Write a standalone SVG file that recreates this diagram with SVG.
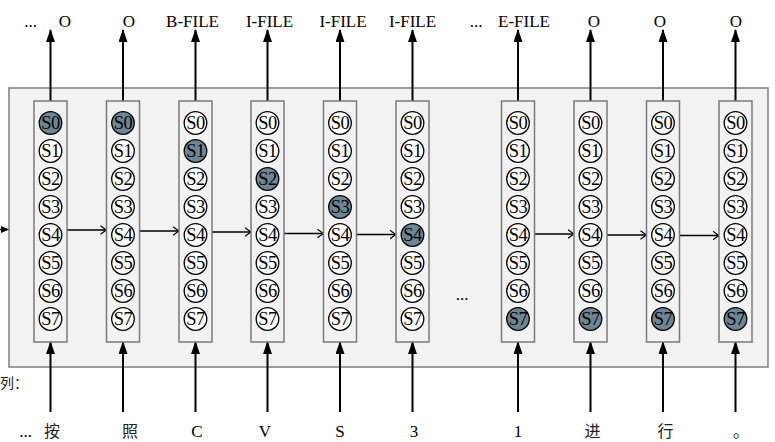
<svg xmlns="http://www.w3.org/2000/svg" width="775" height="442" viewBox="0 0 775 442">
<style>
.lab{font-family:"Liberation Serif","Noto Sans CJK SC",serif;font-size:17px;fill:#000;text-anchor:middle}
.cjk{font-family:"Liberation Serif","Noto Sans CJK SC",serif;font-size:16px;fill:#222;text-anchor:middle}
.col{fill:#f2f2f2;stroke:#7a7a7a;stroke-width:1.5}
.st{fill:#fff;stroke:#000;stroke-width:1.3}
.on{fill:#6e8593;stroke:#000;stroke-width:1.3}
.sl{font-family:"Liberation Serif",serif;font-size:18.5px;fill:#000;text-anchor:middle;letter-spacing:-0.5px}
.va{stroke:#000;stroke-width:2;fill:none;marker-end:url(#fa)}
.ha{stroke:#000;stroke-width:1.3;fill:none;marker-end:url(#oa)}
</style>
<defs>
<marker id="fa" viewBox="0 0 13 9" refX="12" refY="4.5" markerWidth="13" markerHeight="9" markerUnits="userSpaceOnUse" orient="auto"><path d="M0,0 L13,4.5 L0,9 Z" fill="#000"/></marker>
<marker id="oa" viewBox="0 0 7 10" refX="6.5" refY="5" markerWidth="7" markerHeight="10" markerUnits="userSpaceOnUse" orient="auto"><path d="M0.5,0.8 L6.3,5 L0.5,9.2" fill="none" stroke="#000" stroke-width="1.2"/></marker>
</defs>
<rect id="frame" x="9" y="88" width="759" height="279" fill="#f2f2f2" stroke="#7f7f7f" stroke-width="1.5"/>

<g id="connectors">
<line class="va" x1="50.5" y1="101" x2="50.5" y2="30"/>
<line class="va" x1="123" y1="101" x2="123" y2="30"/>
<line class="va" x1="195.5" y1="101" x2="195.5" y2="30"/>
<line class="va" x1="267.5" y1="101" x2="267.5" y2="30"/>
<line class="va" x1="340" y1="101" x2="340" y2="30"/>
<line class="va" x1="412.5" y1="101" x2="412.5" y2="30"/>
<line class="va" x1="518" y1="101" x2="518" y2="30"/>
<line class="va" x1="590.5" y1="101" x2="590.5" y2="30"/>
<line class="va" x1="663" y1="101" x2="663" y2="30"/>
<line class="va" x1="735.5" y1="101" x2="735.5" y2="30"/>

<line class="va" x1="50.5" y1="412" x2="50.5" y2="342"/>
<line class="va" x1="123" y1="412" x2="123" y2="342"/>
<line class="va" x1="195.5" y1="412" x2="195.5" y2="342"/>
<line class="va" x1="267.5" y1="412" x2="267.5" y2="342"/>
<line class="va" x1="340" y1="412" x2="340" y2="342"/>
<line class="va" x1="412.5" y1="412" x2="412.5" y2="342"/>
<line class="va" x1="518" y1="412" x2="518" y2="342"/>
<line class="va" x1="590.5" y1="412" x2="590.5" y2="342"/>
<line class="va" x1="663" y1="412" x2="663" y2="342"/>
<line class="va" x1="735.5" y1="412" x2="735.5" y2="342"/>

<line x1="-2" y1="229.5" x2="8" y2="229.5" stroke="#000" stroke-width="1.3"/>
<path d="M1,226 L9,229.5 L1,233 Z" fill="#000"/>

<line class="ha" x1="67" y1="230" x2="106.5" y2="230"/>
<line class="ha" x1="139.5" y1="231" x2="179" y2="231"/>
<line class="ha" x1="212" y1="232" x2="251" y2="232"/>
<line class="ha" x1="284" y1="233.5" x2="323.5" y2="233.5"/>
<line class="ha" x1="356.5" y1="234.5" x2="396" y2="234.5"/>
<line class="ha" x1="534.5" y1="234" x2="574" y2="234"/>
<line class="ha" x1="607" y1="235" x2="646.5" y2="235"/>
<line class="ha" x1="679.5" y1="235.5" x2="719" y2="235.5"/>
</g>

<g id="col1"><rect class="col" x="34" y="101" width="33" height="241"/>
<circle class="on" cx="50.5" cy="123" r="11.3"/><circle class="st" cx="50.5" cy="151" r="11.3"/><circle class="st" cx="50.5" cy="179" r="11.3"/><circle class="st" cx="50.5" cy="207" r="11.3"/><circle class="st" cx="50.5" cy="235" r="11.3"/><circle class="st" cx="50.5" cy="263" r="11.3"/><circle class="st" cx="50.5" cy="291" r="11.3"/><circle class="st" cx="50.5" cy="319" r="11.3"/>
<text class="sl" x="50.5" y="129">S0</text><text class="sl" x="50.5" y="157">S1</text><text class="sl" x="50.5" y="185">S2</text><text class="sl" x="50.5" y="213">S3</text><text class="sl" x="50.5" y="241">S4</text><text class="sl" x="50.5" y="269">S5</text><text class="sl" x="50.5" y="297">S6</text><text class="sl" x="50.5" y="325">S7</text></g>

<g id="col2"><rect class="col" x="106.5" y="101" width="33" height="241"/>
<circle class="on" cx="123" cy="123" r="11.3"/><circle class="st" cx="123" cy="151" r="11.3"/><circle class="st" cx="123" cy="179" r="11.3"/><circle class="st" cx="123" cy="207" r="11.3"/><circle class="st" cx="123" cy="235" r="11.3"/><circle class="st" cx="123" cy="263" r="11.3"/><circle class="st" cx="123" cy="291" r="11.3"/><circle class="st" cx="123" cy="319" r="11.3"/>
<text class="sl" x="123" y="129">S0</text><text class="sl" x="123" y="157">S1</text><text class="sl" x="123" y="185">S2</text><text class="sl" x="123" y="213">S3</text><text class="sl" x="123" y="241">S4</text><text class="sl" x="123" y="269">S5</text><text class="sl" x="123" y="297">S6</text><text class="sl" x="123" y="325">S7</text></g>

<g id="col3"><rect class="col" x="179" y="101" width="33" height="241"/>
<circle class="st" cx="195.5" cy="123" r="11.3"/><circle class="on" cx="195.5" cy="151" r="11.3"/><circle class="st" cx="195.5" cy="179" r="11.3"/><circle class="st" cx="195.5" cy="207" r="11.3"/><circle class="st" cx="195.5" cy="235" r="11.3"/><circle class="st" cx="195.5" cy="263" r="11.3"/><circle class="st" cx="195.5" cy="291" r="11.3"/><circle class="st" cx="195.5" cy="319" r="11.3"/>
<text class="sl" x="195.5" y="129">S0</text><text class="sl" x="195.5" y="157">S1</text><text class="sl" x="195.5" y="185">S2</text><text class="sl" x="195.5" y="213">S3</text><text class="sl" x="195.5" y="241">S4</text><text class="sl" x="195.5" y="269">S5</text><text class="sl" x="195.5" y="297">S6</text><text class="sl" x="195.5" y="325">S7</text></g>

<g id="col4"><rect class="col" x="251" y="101" width="33" height="241"/>
<circle class="st" cx="267.5" cy="123" r="11.3"/><circle class="st" cx="267.5" cy="151" r="11.3"/><circle class="on" cx="267.5" cy="179" r="11.3"/><circle class="st" cx="267.5" cy="207" r="11.3"/><circle class="st" cx="267.5" cy="235" r="11.3"/><circle class="st" cx="267.5" cy="263" r="11.3"/><circle class="st" cx="267.5" cy="291" r="11.3"/><circle class="st" cx="267.5" cy="319" r="11.3"/>
<text class="sl" x="267.5" y="129">S0</text><text class="sl" x="267.5" y="157">S1</text><text class="sl" x="267.5" y="185">S2</text><text class="sl" x="267.5" y="213">S3</text><text class="sl" x="267.5" y="241">S4</text><text class="sl" x="267.5" y="269">S5</text><text class="sl" x="267.5" y="297">S6</text><text class="sl" x="267.5" y="325">S7</text></g>

<g id="col5"><rect class="col" x="323.5" y="101" width="33" height="241"/>
<circle class="st" cx="340" cy="123" r="11.3"/><circle class="st" cx="340" cy="151" r="11.3"/><circle class="st" cx="340" cy="179" r="11.3"/><circle class="on" cx="340" cy="207" r="11.3"/><circle class="st" cx="340" cy="235" r="11.3"/><circle class="st" cx="340" cy="263" r="11.3"/><circle class="st" cx="340" cy="291" r="11.3"/><circle class="st" cx="340" cy="319" r="11.3"/>
<text class="sl" x="340" y="129">S0</text><text class="sl" x="340" y="157">S1</text><text class="sl" x="340" y="185">S2</text><text class="sl" x="340" y="213">S3</text><text class="sl" x="340" y="241">S4</text><text class="sl" x="340" y="269">S5</text><text class="sl" x="340" y="297">S6</text><text class="sl" x="340" y="325">S7</text></g>

<g id="col6"><rect class="col" x="396" y="101" width="33" height="241"/>
<circle class="st" cx="412.5" cy="123" r="11.3"/><circle class="st" cx="412.5" cy="151" r="11.3"/><circle class="st" cx="412.5" cy="179" r="11.3"/><circle class="st" cx="412.5" cy="207" r="11.3"/><circle class="on" cx="412.5" cy="235" r="11.3"/><circle class="st" cx="412.5" cy="263" r="11.3"/><circle class="st" cx="412.5" cy="291" r="11.3"/><circle class="st" cx="412.5" cy="319" r="11.3"/>
<text class="sl" x="412.5" y="129">S0</text><text class="sl" x="412.5" y="157">S1</text><text class="sl" x="412.5" y="185">S2</text><text class="sl" x="412.5" y="213">S3</text><text class="sl" x="412.5" y="241">S4</text><text class="sl" x="412.5" y="269">S5</text><text class="sl" x="412.5" y="297">S6</text><text class="sl" x="412.5" y="325">S7</text></g>

<g id="col7"><rect class="col" x="501.5" y="101" width="33" height="241"/>
<circle class="st" cx="518" cy="123" r="11.3"/><circle class="st" cx="518" cy="151" r="11.3"/><circle class="st" cx="518" cy="179" r="11.3"/><circle class="st" cx="518" cy="207" r="11.3"/><circle class="st" cx="518" cy="235" r="11.3"/><circle class="st" cx="518" cy="263" r="11.3"/><circle class="st" cx="518" cy="291" r="11.3"/><circle class="on" cx="518" cy="319" r="11.3"/>
<text class="sl" x="518" y="129">S0</text><text class="sl" x="518" y="157">S1</text><text class="sl" x="518" y="185">S2</text><text class="sl" x="518" y="213">S3</text><text class="sl" x="518" y="241">S4</text><text class="sl" x="518" y="269">S5</text><text class="sl" x="518" y="297">S6</text><text class="sl" x="518" y="325">S7</text></g>

<g id="col8"><rect class="col" x="574" y="101" width="33" height="241"/>
<circle class="st" cx="590.5" cy="123" r="11.3"/><circle class="st" cx="590.5" cy="151" r="11.3"/><circle class="st" cx="590.5" cy="179" r="11.3"/><circle class="st" cx="590.5" cy="207" r="11.3"/><circle class="st" cx="590.5" cy="235" r="11.3"/><circle class="st" cx="590.5" cy="263" r="11.3"/><circle class="st" cx="590.5" cy="291" r="11.3"/><circle class="on" cx="590.5" cy="319" r="11.3"/>
<text class="sl" x="590.5" y="129">S0</text><text class="sl" x="590.5" y="157">S1</text><text class="sl" x="590.5" y="185">S2</text><text class="sl" x="590.5" y="213">S3</text><text class="sl" x="590.5" y="241">S4</text><text class="sl" x="590.5" y="269">S5</text><text class="sl" x="590.5" y="297">S6</text><text class="sl" x="590.5" y="325">S7</text></g>

<g id="col9"><rect class="col" x="646.5" y="101" width="33" height="241"/>
<circle class="st" cx="663" cy="123" r="11.3"/><circle class="st" cx="663" cy="151" r="11.3"/><circle class="st" cx="663" cy="179" r="11.3"/><circle class="st" cx="663" cy="207" r="11.3"/><circle class="st" cx="663" cy="235" r="11.3"/><circle class="st" cx="663" cy="263" r="11.3"/><circle class="st" cx="663" cy="291" r="11.3"/><circle class="on" cx="663" cy="319" r="11.3"/>
<text class="sl" x="663" y="129">S0</text><text class="sl" x="663" y="157">S1</text><text class="sl" x="663" y="185">S2</text><text class="sl" x="663" y="213">S3</text><text class="sl" x="663" y="241">S4</text><text class="sl" x="663" y="269">S5</text><text class="sl" x="663" y="297">S6</text><text class="sl" x="663" y="325">S7</text></g>

<g id="col10"><rect class="col" x="719" y="101" width="33" height="241"/>
<circle class="st" cx="735.5" cy="123" r="11.3"/><circle class="st" cx="735.5" cy="151" r="11.3"/><circle class="st" cx="735.5" cy="179" r="11.3"/><circle class="st" cx="735.5" cy="207" r="11.3"/><circle class="st" cx="735.5" cy="235" r="11.3"/><circle class="st" cx="735.5" cy="263" r="11.3"/><circle class="st" cx="735.5" cy="291" r="11.3"/><circle class="on" cx="735.5" cy="319" r="11.3"/>
<text class="sl" x="735.5" y="129">S0</text><text class="sl" x="735.5" y="157">S1</text><text class="sl" x="735.5" y="185">S2</text><text class="sl" x="735.5" y="213">S3</text><text class="sl" x="735.5" y="241">S4</text><text class="sl" x="735.5" y="269">S5</text><text class="sl" x="735.5" y="297">S6</text><text class="sl" x="735.5" y="325">S7</text></g>

<g id="top-labels">
<text class="lab" x="30.5" y="27">...</text>
<text class="lab" x="65" y="27">O</text>
<text class="lab" x="129" y="27">O</text>
<text class="lab" x="192.5" y="27">B-FILE</text>
<text class="lab" x="269.5" y="27">I-FILE</text>
<text class="lab" x="343" y="27">I-FILE</text>
<text class="lab" x="412.5" y="27">I-FILE</text>
<text class="lab" x="476" y="27">...</text>
<text class="lab" x="524" y="27">E-FILE</text>
<text class="lab" x="594" y="27">O</text>
<text class="lab" x="660" y="27">O</text>
<text class="lab" x="736" y="27">O</text>
</g>

<text class="lab" x="462" y="300">...</text>
<text x="0" y="388" style="font-family:'Noto Sans CJK SC',sans-serif;font-size:14px;fill:#222">列：</text>

<g id="bottom-labels">
<text class="lab" x="25.5" y="437">...</text>
<text class="cjk" x="52" y="437">按</text>
<text class="cjk" x="130" y="437">照</text>
<text class="lab" x="197" y="437">C</text>
<text class="lab" x="265" y="437">V</text>
<text class="lab" x="340" y="437">S</text>
<text class="lab" x="414" y="437">3</text>
<text class="lab" x="518" y="437">1</text>
<text class="cjk" x="592.5" y="437">进</text>
<text class="cjk" x="665.5" y="437">行</text>
<text class="cjk" x="741" y="437">。</text>
</g>
</svg>
